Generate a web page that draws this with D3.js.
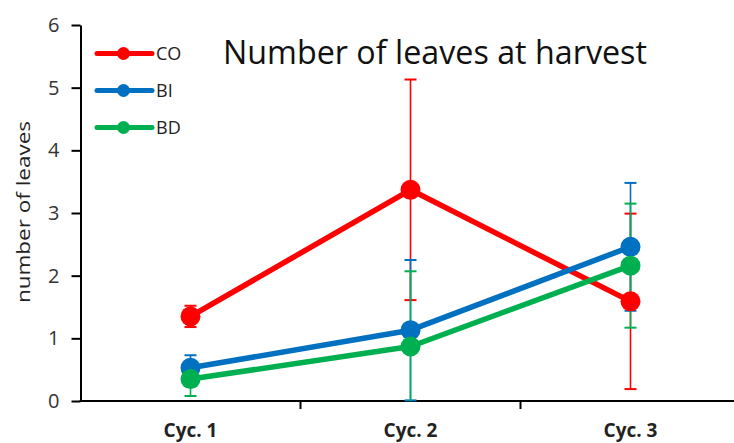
<!DOCTYPE html>
<html>
<head>
<meta charset="utf-8">
<script src="https://cdn.jsdelivr.net/npm/d3@7"></script>
<style>
  body { margin: 0; background: #fff; }
  svg { display: block; font-family: "Open Sans", sans-serif; }
</style>
</head>
<body>
<div id="chart"></div>
<script>
// values
const cycles = ["Cyc. 1", "Cyc. 2", "Cyc. 3"];
const seriesNames = ["CO", "BI", "BD"];
const coMeans = [1.35, 3.37, 1.59];
const coErrors = [0.17, 1.76, 1.40];
const biMeans = [0.53, 1.13, 2.46];
const biErrors = [0.20, 1.12, 1.02];
const bdMeans = [0.35, 0.87, 2.16];
const bdErrors = [0.27, 1.20, 0.99];
const yTicks = [0, 1, 2, 3, 4, 5, 6];
const colors = ["#ff0000", "#0070c0", "#00b050"];

const width = 734, height = 443;
const margin = {left: 80.5, right: -6.5, top: 25, bottom: 42};

const series = [
    {name: seriesNames[0], means: coMeans, errors: coErrors, color: colors[0]},
    {name: seriesNames[1], means: biMeans, errors: biErrors, color: colors[1]},
    {name: seriesNames[2], means: bdMeans, errors: bdErrors, color: colors[2]}
];

const svg = d3.select("#chart").append("svg")
    .attr("width", width)
    .attr("height", height);

let x = d3.scaleBand()
    .domain(cycles)
    .range([margin.left, width - margin.right]);

let y = d3.scaleLinear()
    .domain([0, 6])
    .range([height - margin.bottom, margin.top]);

// y axis
let yAxis = svg.append("g")
    .attr("transform", "translate(" + margin.left + ",0)")
    .call(d3.axisLeft(y).tickValues(yTicks).tickFormat(d3.format("d"))
        .tickSize(9).tickPadding(12).tickSizeOuter(0));
yAxis.attr("font-family", "Open Sans").attr("font-size", 20);
yAxis.select(".domain").attr("stroke-width", 2);
yAxis.selectAll(".tick line").attr("stroke-width", 2);
yAxis.selectAll(".tick text").attr("fill", "#333");

// x axis, ticks sit between the categories
let xAxis = svg.append("g")
    .attr("transform", "translate(0," + y(0) + ")");
xAxis.append("line")
    .attr("x1", margin.left - 1)
    .attr("x2", width)
    .attr("stroke", "#000")
    .attr("stroke-width", 2);
xAxis.selectAll(".xtick")
    .data(cycles.slice(1))
    .enter()
    .append("line")
    .attr("class", "xtick")
    .attr("x1", d => x(d))
    .attr("x2", d => x(d))
    .attr("y1", 0)
    .attr("y2", 8)
    .attr("stroke", "#000")
    .attr("stroke-width", 2);
xAxis.selectAll(".xlabel")
    .data(cycles)
    .enter()
    .append("text")
    .attr("class", "xlabel")
    .attr("x", d => x(d) + x.bandwidth() / 2)
    .attr("y", 36)
    .attr("text-anchor", "middle")
    .style("font-size", "19px")
    .style("font-weight", "bold")
    .style("fill", "#222")
    .text(d => d);

let cx = function(i) { return x(cycles[i]) + x.bandwidth() / 2; };

let line = d3.line()
    .x((d, i) => cx(i))
    .y(d => y(d));

// lines
svg.selectAll(".series-line")
    .data(series)
    .enter()
    .append("path")
    .attr("class", "series-line")
    .attr("d", d => line(d.means))
    .attr("fill", "none")
    .attr("stroke", d => d.color)
    .attr("stroke-width", 5.5)
    .attr("stroke-linejoin", "round");

// error bars (clipped at 0 like the original, no cap when clipped)
series.forEach(function(s) {
    let g = svg.append("g").attr("class", "errbars");
    s.means.forEach(function(m, i) {
        let lo = m - s.errors[i], hi = m + s.errors[i];
        let loC = Math.max(lo, 0);
        g.append("line")
            .attr("x1", cx(i)).attr("x2", cx(i))
            .attr("y1", y(loC)).attr("y2", y(hi))
            .attr("stroke", s.color).attr("stroke-width", 1.6);
        g.append("line")
            .attr("x1", cx(i) - 6).attr("x2", cx(i) + 6)
            .attr("y1", y(hi)).attr("y2", y(hi))
            .attr("stroke", s.color).attr("stroke-width", 2);
        if (lo >= 0) {
            g.append("line")
                .attr("x1", cx(i) - 6).attr("x2", cx(i) + 6)
                .attr("y1", y(lo)).attr("y2", y(lo))
                .attr("stroke", s.color).attr("stroke-width", 2);
        }
    });
});

// markers
series.forEach(function(s) {
    svg.append("g")
        .selectAll("circle")
        .data(s.means)
        .enter()
        .append("circle")
        .attr("cx", (d, i) => cx(i))
        .attr("cy", d => y(d))
        .attr("r", 10)
        .attr("fill", s.color);
});

// legend
let legend = svg.append("g").attr("class", "legend");
series.forEach(function(s, i) {
    let ly = 53.5 + i * 37;
    legend.append("line")
        .attr("x1", 97).attr("x2", 152)
        .attr("y1", ly).attr("y2", ly)
        .attr("stroke", s.color)
        .attr("stroke-width", 5)
        .attr("stroke-linecap", "round");
    legend.append("circle")
        .attr("cx", 123.5).attr("cy", ly)
        .attr("r", 6.5)
        .attr("fill", s.color);
    legend.append("text")
        .attr("x", 156)
        .attr("y", ly + 6.5)
        .style("font-size", "18px")
        .style("fill", "#222")
        .text(s.name);
});

// title
svg.append("text")
    .attr("x", 223)
    .attr("y", 64)
    .attr("textLength", 424)
    .attr("lengthAdjust", "spacingAndGlyphs")
    .style("font-size", "33px")
    .style("fill", "#111")
    .text("Number of leaves at harvest");

// y axis label
svg.append("text")
    .attr("transform", "translate(30,212) rotate(-90)")
    .attr("text-anchor", "middle")
    .attr("textLength", 182)
    .attr("lengthAdjust", "spacingAndGlyphs")
    .style("font-size", "19px")
    .style("fill", "#222")
    .text("number of leaves");
</script>
</body>
</html>
